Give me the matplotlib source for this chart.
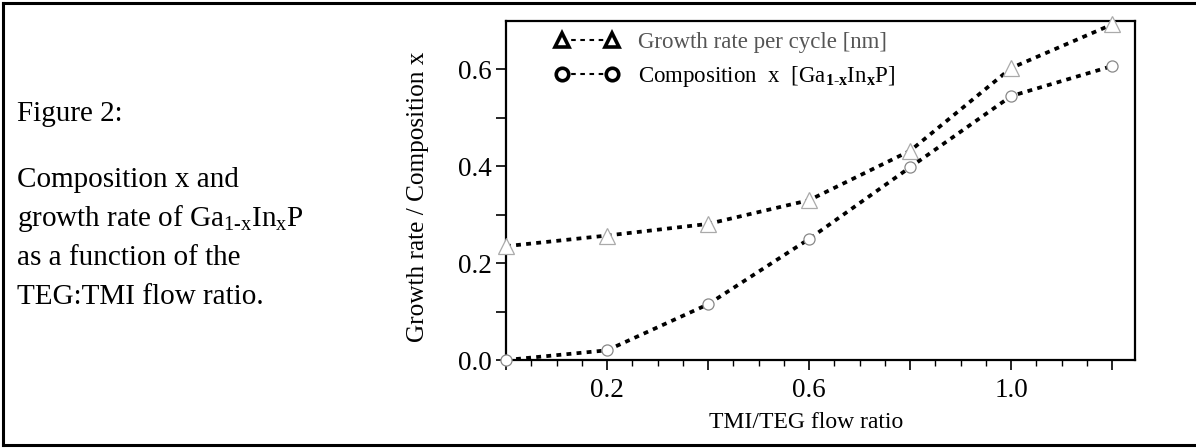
import numpy as np
import matplotlib.pyplot as plt
from matplotlib.lines import Line2D

plt.rcParams['font.family'] = ['Liberation Serif', 'DejaVu Serif']
plt.rcParams['mathtext.fontset'] = 'custom'
plt.rcParams['mathtext.rm'] = 'Liberation Serif'
plt.rcParams['mathtext.it'] = 'Liberation Serif:italic'
plt.rcParams['mathtext.bf'] = 'Liberation Serif:bold'

# donnees
flow_ratio = [0.0, 0.2, 0.4, 0.6, 0.8, 1.0, 1.2]
growth_rate = [0.235, 0.257, 0.281, 0.330, 0.432, 0.603, 0.693]
composition = [0.000, 0.020, 0.115, 0.250, 0.398, 0.545, 0.607]
x_ticks = [0.0, 0.2, 0.4, 0.6, 0.8, 1.0, 1.2]
x_ticklabels = ['', '0.2', '', '0.6', '', '1.0', '']
y_ticks = [0.0, 0.2, 0.4, 0.6]
y_ticklabels = ['0.0', '0.2', '0.4', '0.6']

W, H = 1196, 448
fig = plt.figure(figsize=(W / 100, H / 100), dpi=100)
ax = fig.add_axes([506 / W, 1 - 360 / H, 629 / W, 339 / H])

dots = (0, (1.3, 1.4))
ax.plot(flow_ratio, growth_rate, color='black', lw=2.7, linestyle=dots,
        marker='^', markersize=11, markerfacecolor='white',
        markeredgecolor='#aaaaaa', markeredgewidth=0.9, clip_on=False, zorder=3)
ax.plot(flow_ratio, composition, color='black', lw=2.7, linestyle=dots,
        marker='o', markersize=8, markerfacecolor='white',
        markeredgecolor='#888888', markeredgewidth=0.9, clip_on=False, zorder=3)

ax.set_xlim(0, 1.245)
ax.set_ylim(0, 0.70)
ax.set_xticks(x_ticks)
ax.set_xticklabels(x_ticklabels)
ax.set_xticks(np.arange(0, 1.25, 0.05), minor=True)
ax.set_yticks(y_ticks)
ax.set_yticklabels(y_ticklabels)
ax.set_yticks([0.1, 0.3, 0.5], minor=True)

for s in ax.spines.values():
    s.set_linewidth(1.6)
ax.tick_params(axis='x', which='major', direction='out', length=7, width=1.2,
               pad=6, labelsize=19.5, colors='black')
ax.tick_params(axis='x', which='minor', direction='out', length=4, width=1.0)
ax.tick_params(axis='y', which='both', direction='out', length=7, width=1.2,
               pad=3, labelsize=19.5)

# legende avec marqueurs en gras
h1 = Line2D([], [], color='black', lw=1.5, linestyle=(0, (2.2, 2.2)), marker='^',
            markersize=10, markerfacecolor='white', markeredgecolor='black',
            markeredgewidth=2.6)
h2 = Line2D([], [], color='black', lw=1.5, linestyle=(0, (2.2, 2.2)), marker='o',
            markersize=9, markerfacecolor='white', markeredgecolor='black',
            markeredgewidth=2.6)
leg = ax.legend([h1, h2], ['Growth rate per cycle [nm]',
                           r'Composition  x  [Ga$_{\mathbf{1\text{-}x}}$In$_{\mathbf{x}}$P]'],
                loc='upper left', bbox_to_anchor=(0.078, 0.967), frameon=False,
                borderpad=0, borderaxespad=0,
                fontsize=16.5, numpoints=2, handlelength=2.8, handletextpad=0.8,
                labelspacing=0.48)
leg.get_texts()[0].set_color('#555555')

fig.text(418 / W, 1 - 197 / H, 'Growth rate / Composition x', rotation=90,
         ha='center', va='center', fontsize=18.2)
fig.text(806 / W, 1 - 428 / H, 'TMI/TEG flow ratio', ha='center',
         va='baseline', fontsize=17)

# texte a gauche
fig.text(17 / W, 1 - 121 / H, 'Figure 2:', fontsize=21, va='baseline')
caption = ['Composition x and',
           r'growth rate of Ga$_{\mathregular{1\text{-}x}}$In$_{\mathregular{x}}$P',
           'as a function of the',
           'TEG:TMI flow ratio.']
for i, line in enumerate(caption):
    fig.text(17 / W, 1 - (187 + 39 * i) / H, line, fontsize=21, va='baseline')

# cadre exterieur
fig.add_artist(Line2D([3 / W, 3 / W], [1 - 3 / H, 1 - 445 / H], color='black', lw=2.2))
fig.add_artist(Line2D([3 / W, 1], [1 - 3 / H, 1 - 3 / H], color='black', lw=2.2))
fig.add_artist(Line2D([3 / W, 1], [1 - 445 / H, 1 - 445 / H], color='black', lw=2.2))

fig.savefig('out.png', dpi=100)
